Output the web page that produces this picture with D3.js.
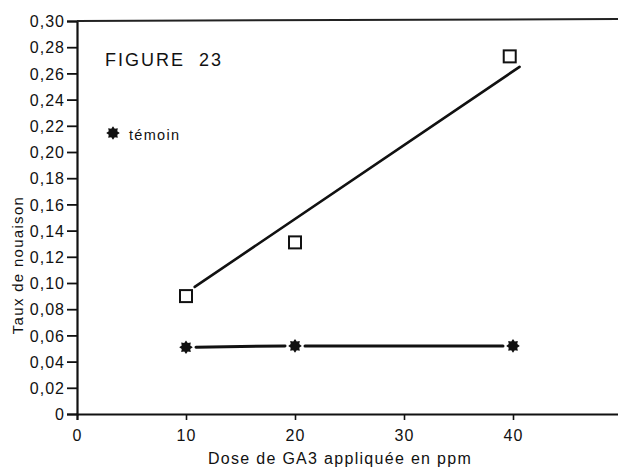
<!DOCTYPE html>
<html>
<head>
<meta charset="utf-8">
<script src="https://cdn.jsdelivr.net/npm/d3@7"></script>
<style>
  html, body { margin: 0; padding: 0; background: #fff; }
  svg { display: block; }
  text { font-family: "Liberation Sans", Arial, sans-serif; fill: #111; }
</style>
</head>
<body>
<svg id="chart" width="618" height="468"></svg>
<script>
// Doses de GA3 (ppm) et taux de nouaison
const doses = [10, 20, 39.7];
const tauxGA3 = [0.090, 0.131, 0.273];
const dosesTemoin = [10, 20, 40];
const tauxTemoin = [0.051, 0.052, 0.052];
// Droite d'ajustement tracée sur le graphique (extrémités)
const droiteX = [10.8, 40.6];
const droiteY = [0.097, 0.265];
// Graduations
const xTicks = [0, 10, 20, 30, 40];
const yTicks = [0, 0.02, 0.04, 0.06, 0.08, 0.10, 0.12, 0.14, 0.16, 0.18, 0.20, 0.22, 0.24, 0.26, 0.28, 0.30];

const svg = d3.select("#chart");
const W = 618, H = 468;

const x = d3.scaleLinear().domain([0, 50]).range([77, 622]);
const y = d3.scaleLinear().domain([0, 0.30]).range([414, 21]);

const fmtY = v => v === 0 ? "0" : d3.format(".2f")(v).replace(".", ",");

// Axe des ordonnées
const yAxis = d3.axisLeft(y).tickValues(yTicks).tickFormat(fmtY).tickSize(10).tickPadding(2);
const gy = svg.append("g").attr("transform", `translate(${x(0)},0)`).call(yAxis);
gy.select(".domain").attr("stroke", "#111").attr("stroke-width", 2.2);
gy.selectAll(".tick line").attr("stroke", "#111").attr("stroke-width", 1.8);
gy.selectAll(".tick text").attr("font-size", 16).attr("fill", "#111").attr("dy", "0.36em")
  .style("letter-spacing", "1px");

// Axe des abscisses
const xAxis = d3.axisBottom(x).tickValues(xTicks).tickFormat(d3.format("d")).tickSize(6).tickPadding(10);
const gx = svg.append("g").attr("transform", `translate(0,${y(0)})`).call(xAxis);
gx.select(".domain").attr("stroke", "#111").attr("stroke-width", 2);
gx.selectAll(".tick line").attr("stroke", "#111").attr("stroke-width", 1.6);
gx.selectAll(".tick text").attr("font-size", 16).attr("fill", "#111").style("letter-spacing", "1px");

// Cadre supérieur
svg.append("line")
  .attr("x1", x(0)).attr("x2", W)
  .attr("y1", y(0.30)).attr("y2", y(0.30) - 2)
  .attr("stroke", "#222").attr("stroke-width", 2);

// Titres des axes
svg.append("text")
  .attr("x", 340).attr("y", 464)
  .attr("text-anchor", "middle")
  .attr("font-size", 16)
  .style("letter-spacing", "1.3px")
  .text("Dose de GA3 appliquée en ppm");

svg.append("text")
  .attr("transform", "translate(23,265) rotate(-90)")
  .attr("text-anchor", "middle")
  .attr("font-size", 15)
  .style("letter-spacing", "1.3px")
  .text("Taux de nouaison");

// Titre de la figure
svg.append("text")
  .attr("x", 105).attr("y", 66)
  .attr("font-size", 18)
  .style("letter-spacing", "2px")
  .attr("xml:space", "preserve")
  .text("FIGURE  23");

// Symbole étoile à 8 branches
const star8 = {
  draw(ctx, size) {
    const R = Math.sqrt(size) * 0.62, r = R * 0.68, n = 8;
    for (let i = 0; i < 2 * n; i++) {
      const a = Math.PI * i / n - Math.PI / 2;
      const rr = i % 2 === 0 ? R : r;
      const px = rr * Math.cos(a), py = rr * Math.sin(a);
      if (i === 0) ctx.moveTo(px, py); else ctx.lineTo(px, py);
    }
    ctx.closePath();
  }
};
const starPath = d3.symbol().type(star8).size(120);

// Légende
svg.append("path").attr("d", starPath()).attr("transform", "translate(113,133)").attr("fill", "#111");
svg.append("text")
  .attr("x", 129).attr("y", 140)
  .attr("font-size", 14.5)
  .style("letter-spacing", "1.3px")
  .text("témoin");

// Témoin : segments entre points, interrompus autour des symboles
const temoin = dosesTemoin.map((d, i) => ({ d, v: tauxTemoin[i] }));
const gap = 10;
svg.append("g").selectAll("line")
  .data(d3.pairs(temoin))
  .join("line")
  .attr("x1", p => x(p[0].d) + gap)
  .attr("y1", p => y(p[0].v))
  .attr("x2", p => x(p[1].d) - gap)
  .attr("y2", p => y(p[1].v))
  .attr("stroke", "#111").attr("stroke-width", 3).attr("stroke-linecap", "round");

svg.append("g").selectAll("path")
  .data(temoin)
  .join("path")
  .attr("d", starPath())
  .attr("transform", p => `translate(${x(p.d)},${y(p.v)})`)
  .attr("fill", "#111");

// Droite d'ajustement GA3
svg.append("path")
  .datum(droiteX.map((d, i) => [d, droiteY[i]]))
  .attr("d", d3.line().x(p => x(p[0])).y(p => y(p[1])))
  .attr("stroke", "#111").attr("stroke-width", 2.6).attr("fill", "none").attr("stroke-linecap", "round");

// Points GA3 (carrés vides)
const ga3 = doses.map((d, i) => ({ d, v: tauxGA3[i] }));
svg.append("g").selectAll("rect")
  .data(ga3)
  .join("rect")
  .attr("x", p => x(p.d) - 6)
  .attr("y", p => y(p.v) - 6)
  .attr("width", 12).attr("height", 12)
  .attr("fill", "#fff").attr("stroke", "#111").attr("stroke-width", 2);
</script>
</body>
</html>
